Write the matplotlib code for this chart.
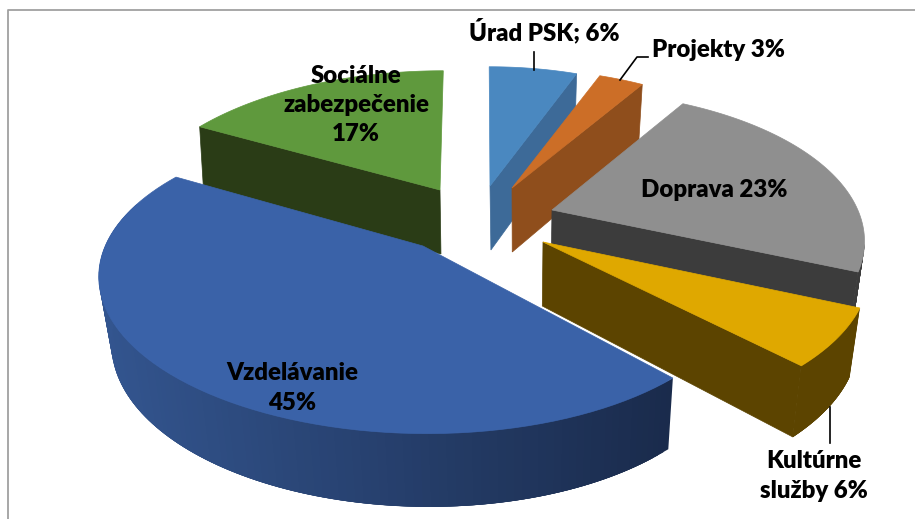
import numpy as np
import matplotlib
matplotlib.use('Agg')
import matplotlib.pyplot as plt
from matplotlib.colors import to_rgb
from matplotlib.patches import Polygon

# values, clockwise from the top
labels = ['Úrad PSK; 6%', 'Projekty 3%', 'Doprava 23%', 'Kultúrne\nslužby 6%', 'Vzdelávanie\n45%', 'Sociálne\nzabezpečenie\n17%']
shares = [6, 3, 23, 6, 45, 17]

top_colors = ['#4a88c0', '#cc6e27', '#8f8f8f', '#dfa800', '#3a62a8', '#5f993d']
side_colors = ['#3d6a98', '#8f4e1c', '#3c3c3c', '#5c4400', '#1a2b4c', '#2a3c16']

# exploded apex of each wedge on screen, and its shape on screen
apex_x = [490, 512, 552, 543, 423, 440]
apex_y = [186, 188, 210, 242, 246, 190]
radius_x = [285, 289, 303, 318, 315, 305]
radius_y = [145, 145, 145, 145, 147, 145]
skew = [-1, -1, -9, 0, 7, 4]
tilt = [0, 0, -6, -2, 6, 0]
persp = 0.216
depth = 66
depth_persp = 0.1
converge = [0.03, 0.03, 0.03, 0.03, 0.03, 0.012]
converge_x = 520
# back to front
draw_order = [5, 0, 1, 2, 3, 4]

label_x = [544, 718, 714, 814, 292, 356]
label_y = [31, 50, 190, 476, 388, 105]

edges = np.radians(np.cumsum([0] + shares) * 3.6)


def project(i, theta, low=False):
    wx = np.sin(theta)
    wy = np.cos(theta)
    s = 1 / (1 + persp * wy)
    x = apex_x[i] + (radius_x[i] * wx + skew[i] * wy) * s
    y = apex_y[i] + (tilt[i] * wx - radius_y[i] * wy) * s
    if low:
        x = x + (converge_x - x) * converge[i]
        y = y + depth / (1 + depth_persp * wy)
    return x, y


def apex(i, low=False):
    x = apex_x[i]
    y = apex_y[i]
    if low:
        x = x + (converge_x - x) * converge[i]
        y = y + depth - 2
    return x, y


fig = plt.figure(figsize=(9.15, 5.19), dpi=100)
ax = fig.add_axes([0, 0, 1, 1])
ax.set_xlim(0, 915)
ax.set_ylim(519, 0)
ax.axis('off')

# chart frame, only top and left are inside the crop
ax.plot([7.5, 7.5, 915], [519, 10, 10], color='#a0a0a0', lw=1.3, zorder=1)

blue_right = np.array(to_rgb('#1a2b4c'))
blue_left = np.array(to_rgb('#33558f'))

z = 2
for i in draw_order:
    t0, t1 = edges[i], edges[i + 1]
    arc = np.linspace(t0, t1, 80)

    # arc wall, only where the rim faces the viewer
    a0 = max(t0, np.radians(105))
    a1 = min(t1, np.radians(285))
    if a1 > a0:
        steps = np.linspace(a0, a1, 120)
        for k in range(len(steps) - 1):
            # each piece runs over the next ones so no seams show
            end = min(k + 4, len(steps) - 1)
            p0 = project(i, steps[k])
            p1 = project(i, steps[end])
            p2 = project(i, steps[end], True)
            p3 = project(i, steps[k], True)
            c = side_colors[i]
            if i == 4:
                frac = np.clip((p0[0] - 100) / 572, 0, 1)
                c = blue_left + (blue_right - blue_left) * frac
            ax.add_patch(Polygon([p0, p1, p2, p3], closed=True, fc=c, ec='none', zorder=z))
            z += 0.001
        z += 1

    # radial wall facing the viewer
    if i in (0, 1, 2, 3):
        wall = [apex(i), project(i, t1), project(i, t1, True), apex(i, True)]
    elif i == 5:
        wall = [apex(i), project(i, t0), project(i, t0, True), apex(i, True)]
    else:
        wall = None
    if wall is not None:
        ax.add_patch(Polygon(wall, closed=True, fc=side_colors[i], ec=side_colors[i], lw=0.5, zorder=z))
        z += 1

    # top face
    px, py = project(i, arc)
    pts = [apex(i)] + list(zip(px, py))
    ax.add_patch(Polygon(pts, closed=True, fc=top_colors[i], ec=top_colors[i], lw=0.5, zorder=z))
    z += 1

# leader lines
ax.plot([534, 534], [52, 70], color='black', lw=1.2, zorder=z)
ax.plot([620, 637, 648], [80, 57, 57], color='black', lw=1.2, zorder=z)
ax.plot([830, 830], [407, 443], color='black', lw=1.2, zorder=z)

for i in range(len(labels)):
    ax.text(label_x[i], label_y[i], labels[i], ha='center', va='center', fontsize=17.3,
            fontweight='heavy', family='Lato', color='black', linespacing=1.4, zorder=z + 1)

fig.savefig('out.png', dpi=100)
